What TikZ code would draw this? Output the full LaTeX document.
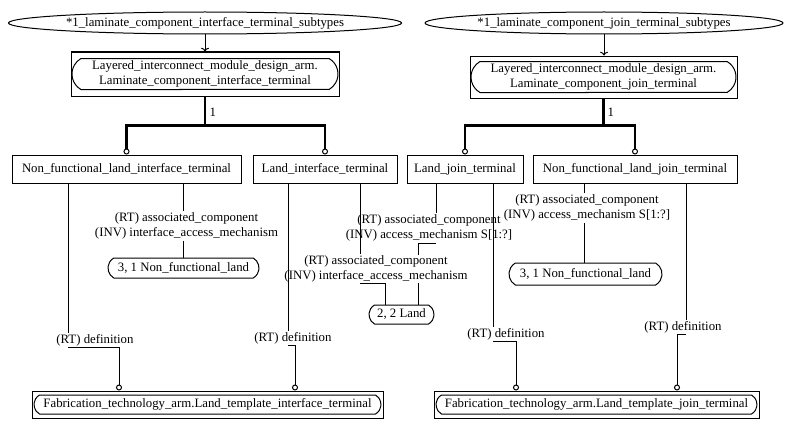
\documentclass[tikz,border=0pt]{standalone}
\usepackage{fontspec}
\setmainfont{Liberation Serif}
\usetikzlibrary{shapes.geometric,shapes.misc,arrows.meta,backgrounds}

\begin{document}
\begin{tikzpicture}[x=1pt, y=-1pt, line width=1pt,
		font=\fontsize{12.8}{15}\selectfont,
		subt/.style={draw, ellipse, inner sep=0pt, minimum height=22},
		ent/.style={draw, rectangle, inner sep=0pt, minimum height=28},
		entbox/.style={draw, rectangle, inner sep=0pt},
		stad/.style={draw, rounded rectangle, rounded rectangle arc length=120, inner sep=0pt, align=center},
		lbl/.style={fill=white, inner sep=1pt, align=center},
		subline/.style={line width=2.6pt, -{Circle[open, length=6pt, line width=1pt]}},
		refline/.style={-{Circle[open, length=6pt]}}]
		\useasboundingbox (0,0) rectangle (791,428);
		% subtype ellipses and supertypes
		\node[subt, minimum width=390] (sL) at (205,23) {*1\_laminate\_component\_interface\_terminal\_subtypes};
		\node[subt, minimum width=356] (sR) at (604,23) {*1\_laminate\_component\_join\_terminal\_subtypes};
		\node[entbox, minimum width=268, minimum height=44] (boxL) at (205,74) {};
		\node[stad, minimum width=266, minimum height=31] (lamL) at (205,74) {Layered\_interconnect\_module\_design\_arm.\\Laminate\_component\_interface\_terminal};
		\node[entbox, minimum width=267, minimum height=42] (boxR) at (603.5,77) {};
		\node[stad, minimum width=265, minimum height=31] (lamR) at (603.5,77) {Layered\_interconnect\_module\_design\_arm.\\Laminate\_component\_join\_terminal};
		% subtypes
		\node[ent, minimum width=229] (nfL) at (126.5,169) {Non\_functional\_land\_interface\_terminal};
		\node[ent, minimum width=144] (liL) at (325,169) {Land\_interface\_terminal};
		\node[ent, minimum width=116] (ljR) at (465,169) {Land\_join\_terminal};
		\node[ent, minimum width=204] (nfR) at (635,169) {Non\_functional\_land\_join\_terminal};
		% page references
		\node[stad, minimum width=151, minimum height=20] (nlL) at (183.5,268) {3, 1 Non\_functional\_land};
		\node[stad, minimum width=65, minimum height=19] (land) at (401.5,314.5) {2, 2 Land};
		\node[stad, minimum width=153, minimum height=22] (nlR) at (585.5,274) {3, 1 Non\_functional\_land};
		\node[entbox, minimum width=351, minimum height=27] (fabL) at (207.5,404.5) {};
		\node[stad, minimum width=347, minimum height=19] (ftL) at (207.5,404.5) {Fabrication\_technology\_arm.Land\_template\_interface\_terminal};
		\node[entbox, minimum width=325, minimum height=27] (fabR) at (596.5,404.5) {};
		\node[stad, minimum width=321, minimum height=19] (ftR) at (596.5,404.5) {Fabrication\_technology\_arm.Land\_template\_join\_terminal};
		% attribute labels
		\node[lbl] (dL1) at (95,340) {(RT) definition};
		\node[lbl] (aL1) at (186.5,226) {(RT) associated\_component\\(INV) interface\_access\_mechanism};
		\node[lbl] (dL2) at (293,338) {(RT) definition};
		\node[lbl] (aL2) at (376,269) {(RT) associated\_component\\(INV) interface\_access\_mechanism};
		\node[lbl] (aR1) at (429,228) {(RT) associated\_component\\(INV) access\_mechanism S[1:?]};
		\node[lbl] (dR1) at (506,334) {(RT) definition};
		\node[lbl] (aR2) at (587,208) {(RT) associated\_component\\(INV) access\_mechanism S[1:?]};
		\node[lbl] (dR2) at (683,327) {(RT) definition};
		\node[anchor=west, inner sep=0pt] (nL) at (209,112) {1};
		\node[anchor=west, inner sep=0pt] (nR) at (607,112) {1};
		% connectors
		\draw[->] (sL) -- (boxL);
		\draw[->] (sR.south) -- (sR.south |- boxR.north);
		\draw[subline] (boxL.south) -- ++(0,29) -| (nfL.north);
		\draw[subline] (boxL.south) -- ++(0,29) -| (liL.north);
		\draw[subline] (boxR.south) -- ++(0,27) -| (ljR.north);
		\draw[subline] (boxR.south) -- ++(0,27) -| (nfR.north);
		\draw (68,0 |- nfL.south) -- (68,0 |- dL1.north);
		\draw[refline] (68,0 |- dL1.south) -| (119,0 |- fabL.north);
		\draw (183,0 |- nfL.south) -- (183,0 |- aL1.north);
		\draw (183,0 |- aL1.south) -- (183,0 |- nlL.north);
		\draw (288,0 |- liL.south) -- (288,0 |- dL2.north);
		\draw[refline] (288,0 |- dL2.south) -| (295,0 |- fabL.north);
		\draw (360,0 |- liL.south) -- (360,0 |- aL2.north);
		\draw (360,0 |- aL2.south) -| (385,0 |- land.north);
		\draw (436,0 |- ljR.south) -- (436,0 |- aR1.north);
		\begin{scope}[on background layer]
			\draw (436,0 |- aR1.south) -| (418,0 |- land.north);
		\end{scope}
		\draw (493,0 |- ljR.south) -- (493,0 |- dR1.north);
		\draw[refline] (493,0 |- dR1.south) -| (516,0 |- fabR.north);
		\draw (584,0 |- nfR.south) -- (584,0 |- aR2.north);
		\draw (584,0 |- aR2.south) -- (584,0 |- nlR.north);
		\draw (686,0 |- nfR.south) -- (686,0 |- dR2.north);
		\draw[refline] (686,0 |- dR2.south) -| (677,0 |- fabR.north);
\end{tikzpicture}
\end{document}
